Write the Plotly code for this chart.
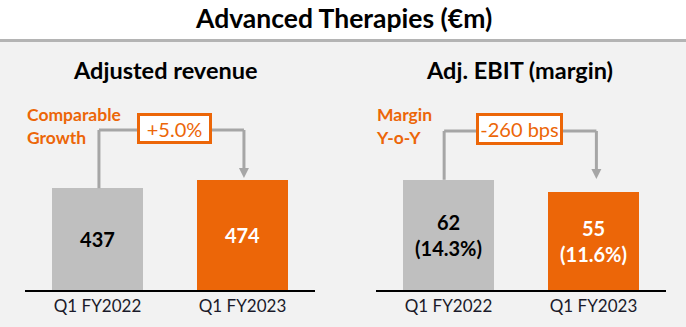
import plotly.graph_objects as go

# ---- data ----
periods = ["Q1 FY2022", "Q1 FY2023"]
revenue = [437, 474]
ebit = [62, 55]
ebit_margin = [14.3, 11.6]
growth_label = "+5.0%"
margin_change_label = "-260 bps"

# ---- style ----
ORANGE = "#EC6608"
GREY_BAR = "#BFBFBF"
GREY_LINE = "#A6A6A6"
BG = "#F2F2F2"
FONT = "Lato"

W, H = 686, 327
Y_BASE_PX, Y_TOP_PX = 290, 42
REV_MAX, EBIT_MAX = 1065, 139.5
LEFT_DOM = (25, 315)
RIGHT_DOM = (376, 666)


def py(px):
    """pixel row -> paper y"""
    return (H - px) / H


def pxx(px):
    """pixel column -> paper x"""
    return px / W


fig = go.Figure()

bar_colors = [GREY_BAR, ORANGE]
text_colors = ["#000000", "#FFFFFF"]

fig.add_trace(go.Bar(
    x=[0, 1], y=revenue, width=0.63,
    marker=dict(color=bar_colors, line=dict(width=0)),
    text=[f"<b>{v}</b>" for v in revenue],
    textposition="inside", insidetextanchor="middle",
    textfont=dict(family=FONT, size=20, color=text_colors),
    xaxis="x", yaxis="y", hoverinfo="skip",
))
fig.add_trace(go.Bar(
    x=[0, 1], y=ebit, width=0.63,
    marker=dict(color=bar_colors, line=dict(width=0)),
    text=[f"<b>{v}<br>({m:.1f}%)</b>" for v, m in zip(ebit, ebit_margin)],
    textposition="inside", insidetextanchor="middle",
    textfont=dict(family=FONT, size=20, color=text_colors),
    xaxis="x2", yaxis="y2", hoverinfo="skip",
))

axis_common = dict(
    tickvals=[0, 1], ticktext=periods, range=[-0.5, 1.5],
    showgrid=False, zeroline=False, showline=True, linecolor="#000000",
    linewidth=1.5, ticks="", tickfont=dict(family=FONT, size=17, color="#1A1A2A"),
    fixedrange=True,
)
yax_common = dict(visible=False, showgrid=False, zeroline=False, fixedrange=True,
                  domain=[py(Y_BASE_PX), py(Y_TOP_PX)])

fig.update_layout(
    width=W, height=H, margin=dict(l=0, r=0, t=0, b=0),
    paper_bgcolor="white", plot_bgcolor="rgba(0,0,0,0)",
    showlegend=False, bargap=0,
    xaxis=dict(domain=[pxx(LEFT_DOM[0]), pxx(LEFT_DOM[1])], anchor="y", **axis_common),
    xaxis2=dict(domain=[pxx(RIGHT_DOM[0]), pxx(RIGHT_DOM[1])], anchor="y2", **axis_common),
    yaxis=dict(range=[0, REV_MAX], anchor="x", **yax_common),
    yaxis2=dict(range=[0, EBIT_MAX], anchor="x2", **yax_common),
    font=dict(family=FONT),
)

shapes = []
# panel background and header rule
shapes.append(dict(type="rect", xref="paper", yref="paper", x0=0, x1=1, y0=0, y1=py(41),
                   fillcolor=BG, line=dict(width=0), layer="below"))
shapes.append(dict(type="line", xref="paper", yref="paper", x0=0, x1=1, y0=py(40.5), y1=py(40.5),
                   line=dict(color="#B4B4B4", width=3), layer="below"))


def connector(xr, yr, values, ymax, x_start, x_end, h_px, tip_px, box_l_px, box_r_px, dom):
    k = (Y_BASE_PX - Y_TOP_PX) / ymax           # pixels per value unit
    to_val = lambda p: (Y_BASE_PX - p) / k       # pixel row -> value
    to_x = lambda p: (p - dom[0]) / 145.0 - 0.5  # pixel column -> category units
    y_h = to_val(h_px)
    y_tip = to_val(tip_px)
    line = dict(color=GREY_LINE, width=3)
    out = [
        dict(type="line", xref=xr, yref=yr, x0=x_start, x1=x_start, y0=values[0], y1=y_h, line=line),
        dict(type="line", xref=xr, yref=yr, x0=x_start, x1=to_x(box_l_px), y0=y_h, y1=y_h, line=line),
        dict(type="line", xref=xr, yref=yr, x0=to_x(box_r_px), x1=x_end, y0=y_h, y1=y_h, line=line),
        dict(type="line", xref=xr, yref=yr, x0=x_end, x1=x_end, y0=y_h, y1=y_tip + 9 / k, line=line),
    ]
    hw = 5 / 145.0
    base = y_tip + 10 / k
    out.append(dict(type="path", xref=xr, yref=yr,
                    path=f"M {x_end - hw},{base} L {x_end + hw},{base} L {x_end},{y_tip} Z",
                    fillcolor=GREY_LINE, line=dict(width=0)))
    return out


shapes += connector("x", "y", revenue, REV_MAX, 0.01, 1.01, 130, 178, 137, 212, LEFT_DOM)
shapes += connector("x2", "y2", ebit, EBIT_MAX, -0.03, 1.02, 131, 179, 476, 563, RIGHT_DOM)
fig.update_layout(shapes=shapes)

ann = []
ann.append(dict(text="<b>Advanced Therapies (€m)</b>", x=pxx(343.5), y=py(18), xref="paper", yref="paper",
                showarrow=False, font=dict(family=FONT, size=26.5, color="#000000"),
                xanchor="center", yanchor="middle"))
ann.append(dict(text="<b>Adjusted revenue</b>", x=pxx(165.5), y=py(70), xref="paper", yref="paper",
                showarrow=False, font=dict(family=FONT, size=23.5, color="#000000"),
                xanchor="center", yanchor="middle"))
ann.append(dict(text="<b>Adj. EBIT (margin)</b>", x=pxx(519), y=py(70), xref="paper", yref="paper",
                showarrow=False, font=dict(family=FONT, size=23.5, color="#000000"),
                xanchor="center", yanchor="middle"))
ann.append(dict(text="<b>Comparable<br>Growth</b>", x=pxx(25), y=py(126.5), xref="paper", yref="paper",
                showarrow=False, align="left", font=dict(family=FONT, size=17.5, color=ORANGE),
                xanchor="left", yanchor="middle"))
ann.append(dict(text="<b>Margin<br>Y-o-Y</b>", x=pxx(374), y=py(126.5), xref="paper", yref="paper",
                showarrow=False, align="left", font=dict(family=FONT, size=17.5, color=ORANGE),
                xanchor="left", yanchor="middle"))
ann.append(dict(text=growth_label, x=pxx(174.5), y=py(128.5), xref="paper", yref="paper",
                showarrow=False, font=dict(family=FONT, size=20, color=ORANGE),
                bgcolor="white", bordercolor=ORANGE, borderwidth=3, borderpad=0,
                width=69, height=25, xanchor="center", yanchor="middle"))
ann.append(dict(text=margin_change_label, x=pxx(519.5), y=py(129), xref="paper", yref="paper",
                showarrow=False, font=dict(family=FONT, size=20, color=ORANGE),
                bgcolor="white", bordercolor=ORANGE, borderwidth=3, borderpad=0,
                width=81, height=26, xanchor="center", yanchor="middle"))
fig.update_layout(annotations=ann)

fig.write_html("out.html")
